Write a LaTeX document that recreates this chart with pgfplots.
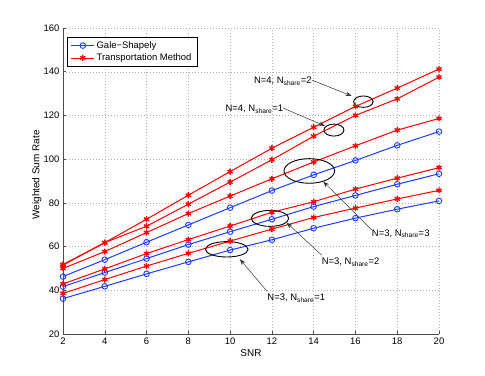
\documentclass[border=0pt]{standalone}
\usepackage{fontspec}
\setmainfont{Liberation Sans}
\usepackage{pgfplots}
\usepackage{pgfplotstable}
\pgfplotsset{compat=1.18}
\usetikzlibrary{arrows.meta}

\definecolor{gsblue}{RGB}{30,60,255}
\definecolor{tmred}{RGB}{255,0,0}

% Gale-Shapely, N=3
\pgfplotstableread{
snr  n3s1  n3s2  n3s3
2    36.2  41.7  46.3
4    41.8  48.1  54.0
6    47.5  54.5  62.0
8    53.0  60.9  69.9
10   58.4  66.8  77.8
12   63.1  72.5  85.6
14   68.4  78.3  92.8
16   73.0  83.4  99.4
18   77.1  88.5  106.3
20   80.9  93.3  112.6
}\gsdata

% Transportation method
\pgfplotstableread{
snr  n3s1  n3s2  n3s3   n4s1   n4s2
2    38.6  42.9  50.0   51.5   51.8
4    44.9  49.8  57.7   61.8   61.8
6    51.1  56.8  66.4   69.3   72.5
8    56.9  63.2  75.1   79.4   83.5
10   62.5  69.4  83.1   89.5   94.3
12   68.0  75.7  91.0   99.7   105.0
14   73.3  80.5  98.7   110.5  114.6
16   77.6  86.3  106.1  120.0  124.1
18   81.8  91.3  113.3  127.6  132.5
20   85.7  96.1  118.6  137.5  141.2
}\tmdata

\begin{document}
\begin{tikzpicture}
\begin{axis}[
    scale only axis,
    width=376bp, height=306bp,
    xmin=2, xmax=20, ymin=20, ymax=160,
    xtick={2,4,...,20}, ytick={20,40,...,160},
    axis x line*=bottom, axis y line*=left,
    axis line style={black!70, line width=0.5bp},
    tick align=inside,
    major tick length=3.5bp,
    tick style={black!70, line width=0.5bp},
    grid=major,
    major grid style={gray!60, line width=0.4bp, dash pattern=on 1bp off 2bp},
    tick label style={font=\fontsize{9.5}{11}\selectfont},
    label style={font=\fontsize{10}{12}\selectfont},
    /pgf/number format/assume math mode=true,
    xlabel={SNR}, ylabel={Weighted Sum Rate},
    xlabel style={at={(axis description cs:0.5,-0.062)}, anchor=center},
    ylabel style={at={(axis description cs:-0.07,0.52)}, anchor=center},
    legend style={at={(rel axis cs:0.0114,0.9716)}, anchor=north west,
        draw=black, line width=0.5bp, fill=white,
        font=\fontsize{9.5}{11}\selectfont,
        inner xsep=3.5bp, inner ysep=2.5bp, row sep=0bp,
        cells={anchor=west}},
    legend image code/.code={\draw[mark repeat=2,mark phase=2, line width=0.6bp]
        plot coordinates {(0bp,0bp) (11.5bp,0bp) (23bp,0bp)};},
    every axis plot/.append style={line width=1bp},
    gs/.style={color=gsblue, mark=o, mark size=2.8bp, mark options={line width=0.9bp}},
    tm/.style={color=tmred, mark=asterisk, mark size=3bp, mark options={line width=1.3bp}},
    clip=false,
]
\addplot[gs] table[x=snr, y=n3s3] {\gsdata};
\addlegendentry{Gale−Shapely}
\addplot[tm] table[x=snr, y=n4s2] {\tmdata};
\addlegendentry{Transportation Method}

\addplot[gs, forget plot] table[x=snr, y=n3s2] {\gsdata};
\addplot[gs, forget plot] table[x=snr, y=n3s1] {\gsdata};
\addplot[tm, forget plot] table[x=snr, y=n4s1] {\tmdata};
\addplot[tm, forget plot] table[x=snr, y=n3s3] {\tmdata};
\addplot[tm, forget plot] table[x=snr, y=n3s2] {\tmdata};
\addplot[tm, forget plot] table[x=snr, y=n3s1] {\tmdata};

% ellipses around the groups
\draw[line width=0.9bp] (axis cs:16.38,126.3) ellipse [x radius=9.7bp, y radius=5.7bp];
\draw[line width=0.9bp] (axis cs:14.97,113.3) ellipse [x radius=10bp, y radius=6bp];
\draw[line width=0.9bp] (axis cs:13.79,94.6) ellipse [x radius=25.3bp, y radius=12.3bp];
\draw[line width=0.9bp] (axis cs:11.91,72.9) ellipse [x radius=18.7bp, y radius=8bp];
\draw[line width=0.9bp] (axis cs:9.84,58.75) ellipse [x radius=21.3bp, y radius=7.7bp];

% labels and arrows
\tikzset{lbl/.style={inner sep=0pt, font=\fontsize{9.5}{11}\selectfont},
         arr/.style={black!80, line width=0.5bp, -{Stealth[length=6bp,width=4.5bp]}}}
\node[lbl, anchor=base east] at (axis cs:13.91,134.6) {N=4, N\textsubscript{share}=2};
\draw[arr] (axis cs:13.91,136.2) -- (axis cs:15.82,128.9);
\node[lbl, anchor=base east] at (axis cs:12.55,121.6) {N=4, N\textsubscript{share}=1};
\draw[arr] (axis cs:12.55,123.3) -- (axis cs:14.54,115.2);
\node[lbl, anchor=base west] at (axis cs:16.78,64.8) {N=3, N\textsubscript{share}=3};
\draw[arr] (axis cs:16.78,67.6) -- (axis cs:14.46,89.7);
\node[lbl, anchor=base west] at (axis cs:14.38,51.8) {N=3, N\textsubscript{share}=2};
\draw[arr] (axis cs:14.38,56.1) -- (axis cs:12.71,70.9);
\node[lbl, anchor=base west] at (axis cs:11.78,35.1) {N=3, N\textsubscript{share}=1};
\draw[arr] (axis cs:11.78,39.4) -- (axis cs:10.47,54.2);

\coordinate (ll) at (rel axis cs:0,0);
\end{axis}
\path (ll) ++(-63bp,-42bp) rectangle ++(485bp,376bp);
\end{tikzpicture}
\end{document}
